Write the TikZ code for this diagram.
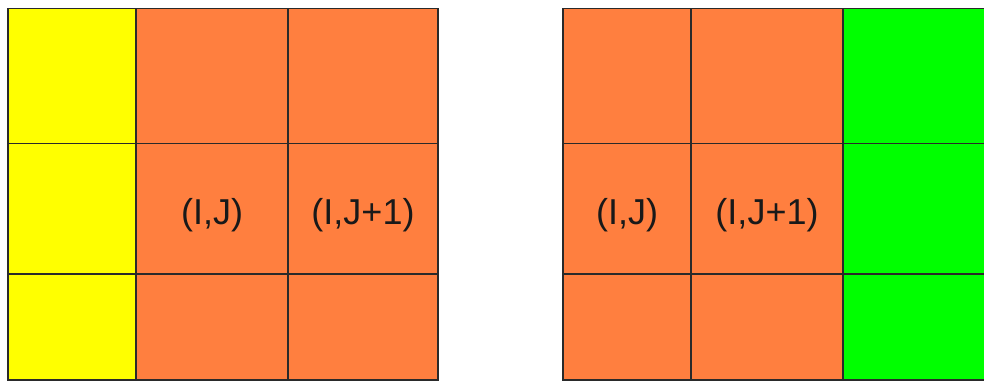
\documentclass[tikz,border=0pt]{standalone}
\usepackage{fontspec}
\setmainfont{Liberation Sans}
\definecolor{cellOrange}{HTML}{FF7F3F}
\definecolor{cellYellow}{HTML}{FFFF00}
\definecolor{cellGreen}{HTML}{00FF00}
\definecolor{gridLine}{HTML}{2A2A2A}
\begin{document}
\begin{tikzpicture}[x=1pt, y=-1pt, cell/.style={draw=gridLine,line width=1.6pt}, lbl/.style={font=\fontsize{36}{42}\selectfont,text=black!90,yshift=-6pt}]
\useasboundingbox (0,0) rectangle (984,382);
\clip (0,0) rectangle (984,382);
% left grid
\foreach \x/\w/\c in {8/128/cellYellow,136/152/cellOrange,288/150/cellOrange}
  \foreach \y/\h in {8.5/135,143.5/130.5,274/106}
    \draw[cell,fill=\c] (\x,\y) rectangle ++(\w,\h);
% right grid
\foreach \x/\w/\c in {563/128/cellOrange,691/152/cellOrange,843/160/cellGreen}
  \foreach \y/\h in {8.5/135,143.5/130.5,274/106}
    \draw[cell,fill=\c] (\x,\y) rectangle ++(\w,\h);
\node[lbl] (lij) at (212,208.75) {(I,J)};
\node[lbl] (lij1) at (363,208.75) {(I,J+1)};
\node[lbl] (rij) at (627,208.75) {(I,J)};
\node[lbl] (rij1) at (767,208.75) {(I,J+1)};
\end{tikzpicture}
\end{document}
